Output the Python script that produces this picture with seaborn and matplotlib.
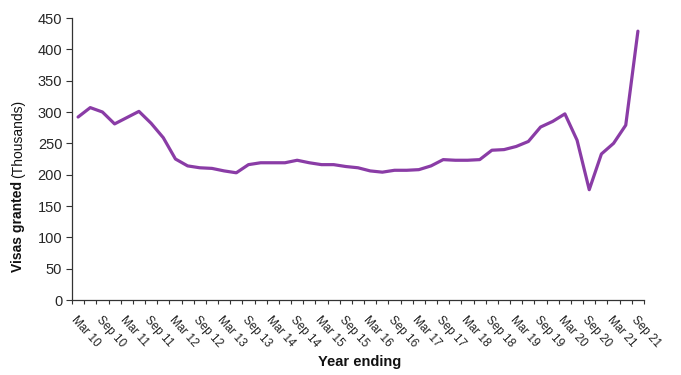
import matplotlib
matplotlib.use("Agg")
import matplotlib.pyplot as plt
import seaborn as sns
import numpy as np
import pandas as pd

# quarterly, year ending Mar 10 .. Sep 21
quarters = []
for yr in range(10, 22):
    for m in ["Mar", "Jun", "Sep", "Dec"]:
        quarters.append("{} {}".format(m, yr))
quarters = quarters[:quarters.index("Sep 21") + 1]

visas = [292, 307, 300, 281, 291, 301, 282, 259, 225, 214,
         211, 210, 206, 203, 216, 219, 219, 219, 223, 219,
         216, 216, 213, 211, 206, 204, 207, 207, 208, 214,
         224, 223, 223, 224, 239, 240, 245, 253, 276, 285,
         297, 255, 176, 233, 250, 279, 429]

tick_labels = quarters[::2]

sns.set_theme(style="ticks")
plt.rcParams["font.family"] = ["Liberation Sans", "DejaVu Sans"]

df = pd.DataFrame({"idx": np.arange(len(quarters)), "visas": visas})

W, H = 681, 375
fig = plt.figure(figsize=(W / 100, H / 100), dpi=100)
ax = fig.add_axes([72 / W, 1 - 300 / H, (644 - 72) / W, (300 - 18) / H])

sns.lineplot(data=df, x="idx", y="visas", ax=ax, color="#8a3ca6", linewidth=2.3)

ax.set_xlim(-0.5, len(quarters) - 0.5)
ax.set_ylim(0, 450)
ax.set_yticks(np.arange(0, 451, 50))
ax.tick_params(axis="y", labelsize=10.5, length=4, width=0.8, color="#333333", pad=3)

ax.set_xticks(np.arange(-0.5, len(quarters)), minor=True)
ax.set_xticks(np.arange(0, len(quarters), 2))
ax.set_xticklabels(tick_labels, rotation=-48, ha="left", va="top",
                   rotation_mode="anchor", fontsize=8.5, color="#222222")
ax.tick_params(axis="x", which="major", length=0, pad=10)
ax.tick_params(axis="x", which="minor", length=3, width=0.8, color="#333333")

ax.set_xlabel("")
ax.set_ylabel("")
sns.despine(ax=ax)
for s in ["left", "bottom"]:
    ax.spines[s].set_color("#333333")
    ax.spines[s].set_linewidth(0.9)

# y label: bold part then normal part, stacked along the rotated baseline
t1 = fig.text(18 / W, 1 - 272 / H, "Visas granted", rotation=90, fontsize=10,
              fontweight="bold", ha="center", va="bottom", color="#111111")
fig.canvas.draw()
bb = t1.get_window_extent(fig.canvas.get_renderer())
fig.text(18 / W, (bb.y1 + 3) / H, "(Thousands)", rotation=90, fontsize=10,
         ha="center", va="bottom", color="#111111")
fig.text(360 / W, 1 - 362 / H, "Year ending", fontsize=10.5,
         fontweight="bold", ha="center", va="center", color="#111111")

fig.savefig("out.png", dpi=100)
